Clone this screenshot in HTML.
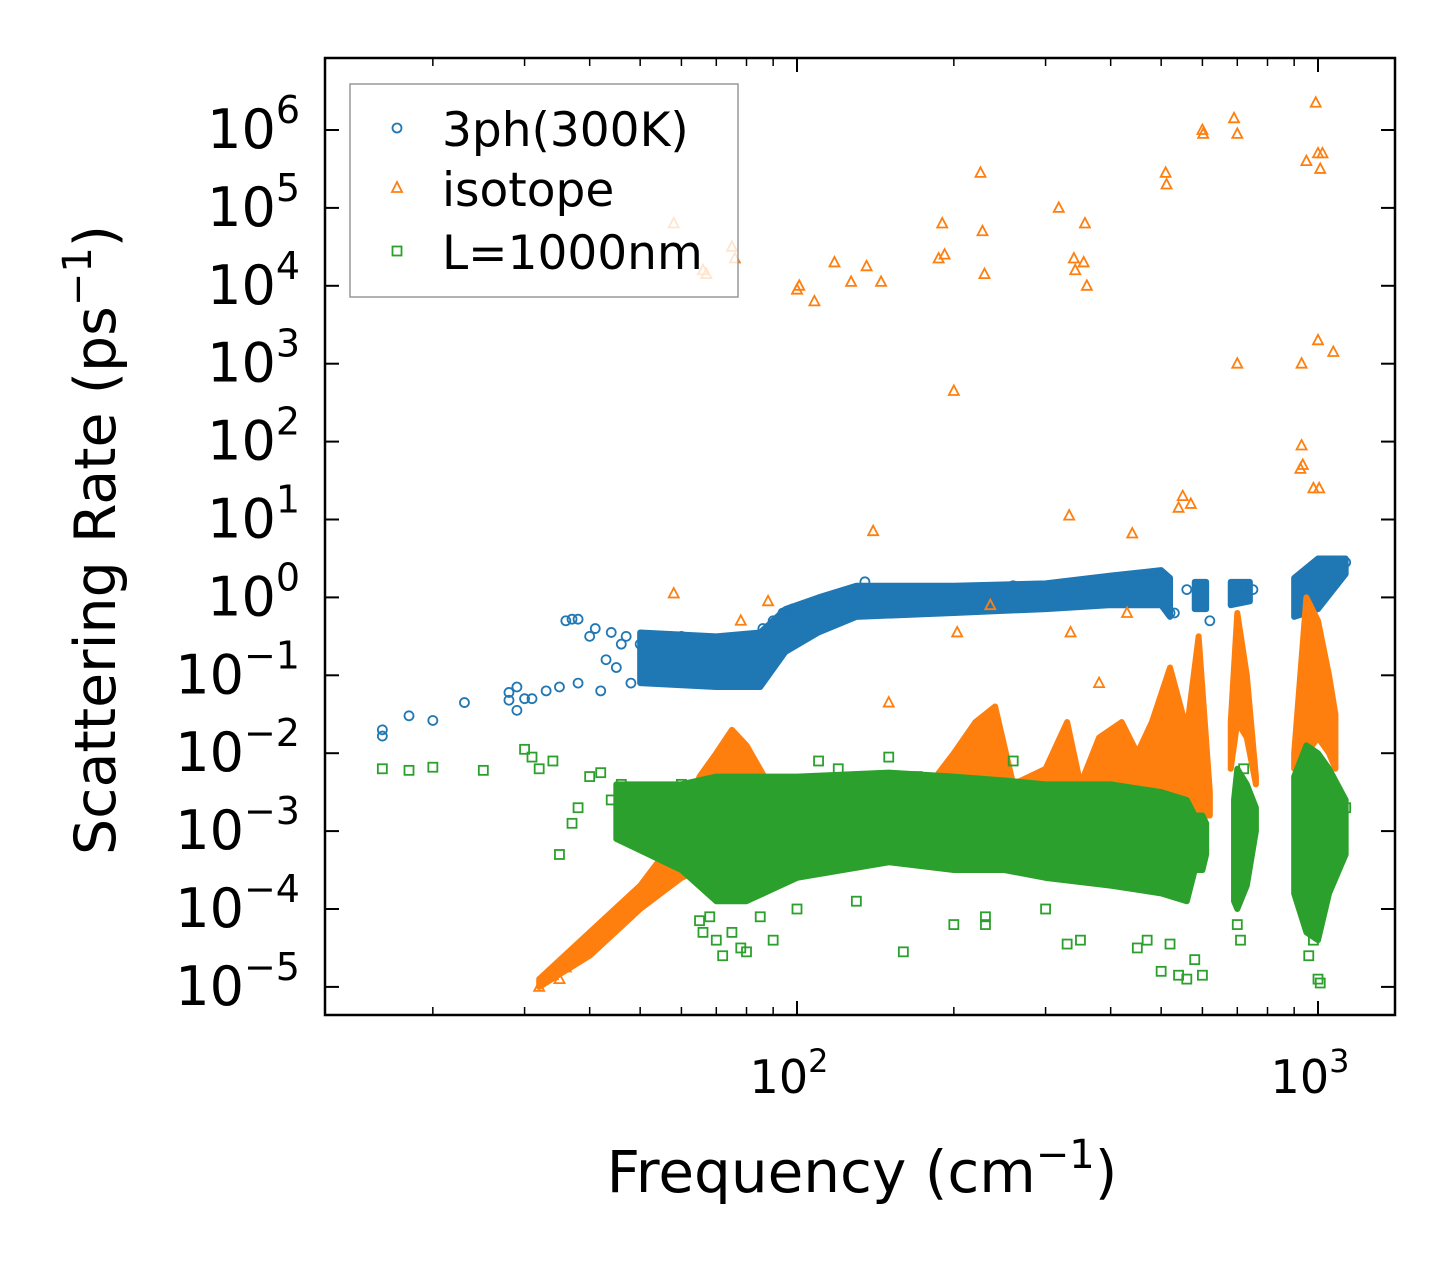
<!DOCTYPE html>
<html><head><meta charset="utf-8"><style>
body{margin:0;background:#fff}
svg{display:block;font-family:"DejaVu Sans","Liberation Sans",sans-serif}
</style></head><body>
<svg id="chart" width="1455" height="1265" viewBox="0 0 1455 1265" xmlns="http://www.w3.org/2000/svg"></svg>
<script>
// ---- data (frequency cm^-1, log10 rate ps^-1) ----
const blueF=[16,16,18,20,23,28,28,29,29,30,31,33,35,36,37,38,38,40,41,42,43,44,45,46,47,48,50,52,54,56,58,60,62,64,66,68,70,72,74,76,78,80,82,84,86,88,90,92,94,96,98,100,105,110,115,120,125,130,135,140,150,160,170,180,190,200,210,220,230,240,250,260,270,280,300,320,340,360,380,400,420,440,460,500,510,520,530,560,600,620,700,720,750,920,950,960,980,1000,1020,1050,1100,1130];
const blueR=[-1.7,-1.78,-1.52,-1.58,-1.35,-1.32,-1.22,-1.15,-1.45,-1.3,-1.3,-1.2,-1.15,-0.3,-0.28,-0.28,-1.1,-0.5,-0.4,-1.2,-0.8,-0.45,-0.9,-0.6,-0.5,-1.1,-0.6,-0.7,-0.8,-0.9,-0.75,-0.5,-0.9,-1.0,-0.7,-0.95,-0.8,-1.05,-0.65,-0.9,-0.7,-1.1,-0.85,-0.55,-0.4,-0.5,-0.3,-0.4,-0.2,-0.25,-0.15,-0.2,-0.1,-0.15,-0.05,-0.1,0,-0.05,0.2,0.05,-0.05,0,-0.1,0.05,0,-0.05,0.1,0,-0.1,0,0.05,0.15,0,0.05,0.1,0,0.05,0.15,0.2,0.1,0.2,0.05,0.1,0.3,0,-0.2,-0.2,0.1,0,-0.3,0.15,0.1,0.1,0.1,0.2,-0.1,0.3,0.4,0.3,0.45,0.4,0.45];
const blueBandF=[50,70,85,95,110,130,200,300,400,500,520,null,580,610,null,680,740,null,900,1000,1130];
const blueBandLo=[-1.1,-1.15,-1.15,-0.7,-0.45,-0.25,-0.2,-0.15,-0.1,-0.1,-0.25,null,-0.15,-0.15,null,-0.1,-0.05,null,-0.25,-0.15,0.3];
const blueBandHi=[-0.45,-0.5,-0.45,-0.15,0.0,0.15,0.15,0.18,0.28,0.35,0.25,null,0.2,0.2,null,0.2,0.2,null,0.25,0.5,0.5];

const isoF=[58,66,67,75,76,100,101,108,118,127,136,145,187,190,192,225,227,229,318,340,342,357,360,355,510,512,600,602,690,700,950,990,1000,1010,1020,200,700,930,1000,1070,930,935,925,980,1005,140,333,440,550,540,570,58,78,88,150,203,235,335,380,430,32,34,35,36,37,38,40,42,45,48];
const isoR=[4.8,4.2,4.15,4.5,4.35,3.95,4.0,3.8,4.3,4.05,4.25,4.05,4.35,4.8,4.4,5.45,4.7,4.15,5.0,4.35,4.2,4.8,4.0,4.3,5.45,5.3,6.0,5.95,6.15,5.95,5.6,6.35,5.7,5.5,5.7,2.65,3.0,3.0,3.3,3.15,1.95,1.7,1.65,1.4,1.4,0.85,1.05,0.82,1.3,1.15,1.2,0.05,-0.3,-0.05,-1.35,-0.45,-0.1,-0.45,-1.1,-0.2,-5.0,-4.85,-4.9,-4.75,-4.6,-4.5,-4.4,-4.3,-4.1,-3.95];
const isoBandF=[32,40,50,60,65,70,75,80,90,100,120,140,160,180,200,220,240,260,300,330,350,380,420,450,480,520,560,590,620,null,680,700,730,760,null,900,950,1000,1050,1080];
const isoBandLo=[-5,-4.6,-4.0,-3.6,-3.5,-3.4,-3.5,-3.3,-3.4,-3.3,-3.4,-3.4,-3.3,-3.2,-3.1,-3.0,-3.1,-3.2,-3.2,-3.0,-3.1,-3.0,-3.0,-3.1,-3.0,-3.0,-3.0,-2.8,-2.8,null,-2.2,-1.6,-1.8,-2.4,null,-2.2,-2.0,-1.8,-2.0,-2.2];
const isoBandHi=[-4.9,-4.3,-3.7,-3.0,-2.3,-2.0,-1.7,-1.9,-2.5,-2.6,-2.7,-2.7,-2.6,-2.4,-2.0,-1.6,-1.4,-2.4,-2.2,-1.6,-2.4,-1.8,-1.6,-2.0,-1.6,-0.9,-1.7,-0.5,-2.5,null,-1.6,-0.2,-1.0,-2.3,null,-2.0,0.0,-0.3,-1.0,-1.5];

const grnF=[16,18,20,25,30,31,32,34,35,37,38,40,42,44,46,48,50,52,55,60,62,65,66,68,70,72,75,78,80,85,90,100,110,120,130,150,160,170,200,230,230,260,300,330,350,400,450,470,500,520,540,560,580,600,700,710,720,750,930,950,960,980,1000,1010,1020,1050,1100,1130];
const grnR=[-2.2,-2.22,-2.18,-2.22,-1.95,-2.05,-2.2,-2.1,-3.3,-2.9,-2.7,-2.3,-2.25,-2.6,-2.4,-2.8,-2.5,-2.6,-3.2,-2.4,-3.5,-4.15,-4.3,-4.1,-4.4,-4.6,-4.3,-4.5,-4.55,-4.1,-4.4,-4.0,-2.1,-2.2,-3.9,-2.05,-4.55,-2.3,-4.2,-4.2,-4.1,-2.1,-4.0,-4.45,-4.4,-2.5,-4.5,-4.4,-4.8,-4.45,-4.85,-4.9,-4.65,-4.85,-4.2,-4.4,-2.2,-2.9,-3.6,-3.8,-4.6,-4.4,-4.9,-4.95,-3.9,-2.9,-3.1,-2.7];
const grnBandF=[45,60,70,80,100,150,200,250,300,400,500,560,580,600,610,null,690,700,730,760,null,900,950,1000,1050,1130];
const grnBandLo=[-3.1,-3.5,-3.9,-3.9,-3.6,-3.4,-3.5,-3.5,-3.6,-3.7,-3.8,-3.9,-3.5,-3.5,-3.3,null,-3.9,-4.0,-3.7,-3.0,null,-3.8,-4.3,-4.4,-3.8,-3.3];
const grnBandHi=[-2.4,-2.4,-2.3,-2.3,-2.3,-2.25,-2.3,-2.35,-2.4,-2.4,-2.5,-2.6,-2.8,-2.8,-2.9,null,-2.6,-2.2,-2.4,-2.7,null,-2.3,-1.9,-2.0,-2.2,-2.6];

const yTickExp=[6,5,4,3,2,1,0,-1,-2,-3,-4,-5];
const xMajor=[2,3];
const xMinorVals=[20,30,40,50,60,70,80,90,200,300,400,500,600,700,800,900];

// ---- axes ----
const L=325,R=1395,T=58,B=1015;
const X=f=>797+(Math.log10(f)-2)*521;
const Y=l=>130+(6-l)*77.9;
const NS='http://www.w3.org/2000/svg';
const svg=document.getElementById('chart');
function mk(tag,attrs,parent){const e=document.createElementNS(NS,tag);for(const k in attrs)e.setAttribute(k,attrs[k]);(parent||svg).appendChild(e);return e;}

const cp=mk('clipPath',{id:'clip'});
mk('rect',{x:L,y:T,width:R-L,height:B-T},cp);
const plot=mk('g',{'clip-path':'url(#clip)'});



function band(F,lo,hi,color,name){
  let seg=[];const segs=[];
  for(let i=0;i<=F.length;i++){if(i===F.length||F[i]===null){if(seg.length)segs.push(seg);seg=[];}else seg.push(i);}
  segs.forEach(s=>{
    const pts=s.map(i=>X(F[i])+','+Y(hi[i])).concat(s.slice().reverse().map(i=>X(F[i])+','+Y(lo[i])));
    const p=mk('polygon',{points:pts.join(' '),fill:color,stroke:color,'stroke-width':6,'stroke-linejoin':'round'},plot);
    
    
  });
}
function circles(F,Rr,color,name){F.forEach((f,i)=>{const c=mk('circle',{cx:X(f),cy:Y(Rr[i]),r:4.5,fill:'none',stroke:color,'stroke-width':1.8},plot);

});}
function tris(F,Rr,color,name){F.forEach((f,i)=>{const x=X(f),y=Y(Rr[i]);const t=mk('polygon',{points:`${x},${y-5.5} ${x-5},${y+4} ${x+5},${y+4}`,fill:'none',stroke:color,'stroke-width':1.8},plot);

});}
function squares(F,Rr,color,name){F.forEach((f,i)=>{const s=mk('rect',{x:X(f)-4.5,y:Y(Rr[i])-4.5,width:9,height:9,fill:'none',stroke:color,'stroke-width':1.8},plot);

});}

band(blueBandF,blueBandLo,blueBandHi,'#1f77b4','3ph-band');
circles(blueF,blueR,'#1f77b4','3ph-point');
band(isoBandF,isoBandLo,isoBandHi,'#ff7f0e','isotope-band');
tris(isoF,isoR,'#ff7f0e','isotope-point');
band(grnBandF,grnBandLo,grnBandHi,'#2ca02c','boundary-band');
squares(grnF,grnR,'#2ca02c','boundary-point');

// frame
const fr=mk('rect',{x:L,y:T,width:R-L,height:B-T,fill:'none',stroke:'#000','stroke-width':2.5});



// y ticks
yTickExp.forEach(e=>{
  const y=Y(e);
  mk('line',{x1:L,x2:L+14,y1:y,y2:y,stroke:'#000','stroke-width':2});
  mk('line',{x1:R-14,x2:R,y1:y,y2:y,stroke:'#000','stroke-width':2});
  const t=mk('text',{x:300,y:y+18,'text-anchor':'end','font-size':54,fill:'#000'});
  
  
  t.textContent='10';
  const s=mk('tspan',{dy:-25,'font-size':38},t);s.textContent=e<0?'\u2212'+(-e):String(e);
});
// x ticks
xMajor.forEach(e=>{
  const x=797+(e-2)*521;
  mk('line',{x1:x,x2:x,y1:B,y2:B-14,stroke:'#000','stroke-width':2});
  mk('line',{x1:x,x2:x,y1:T,y2:T+14,stroke:'#000','stroke-width':2});
  const t=mk('text',{x:x-8,y:1093,'text-anchor':'middle','font-size':46,fill:'#000'});
  
  
  t.textContent='10';
  const s=mk('tspan',{dy:-21,'font-size':32},t);s.textContent=String(e);
});
xMinorVals.forEach(v=>{const x=X(v);
  mk('line',{x1:x,x2:x,y1:B,y2:B-8,stroke:'#000','stroke-width':1.5});
  mk('line',{x1:x,x2:x,y1:T,y2:T+8,stroke:'#000','stroke-width':1.5});});

// axis titles
const xt=mk('text',{x:862,y:1192,'text-anchor':'middle','font-size':58,fill:'#000'});


xt.innerHTML='Frequency (cm<tspan dy="-24" font-size="40">\u22121</tspan><tspan dy="24">)</tspan>';
const yt=mk('text',{x:0,y:0,'text-anchor':'middle','font-size':57,fill:'#000',transform:'translate(115,540) rotate(-90)'});


yt.innerHTML='Scattering Rate (ps<tspan dy="-24" font-size="40">\u22121</tspan><tspan dy="24">)</tspan>';

// legend
const lg=mk('g',{});


mk('rect',{x:350,y:84,width:388,height:213,fill:'#fff','fill-opacity':0.8,stroke:'#999','stroke-width':1.5},lg);
const le=[['3ph(300K)','#1f77b4','c',130],['isotope','#ff7f0e','t',190],['L=1000nm','#2ca02c','s',253]];
le.forEach(([lab,col,sh,y])=>{
  const g=mk('g',{},lg);
  
  
  const x=397;
  if(sh==='c')mk('circle',{cx:x,cy:y-2,r:4.5,fill:'none',stroke:col,'stroke-width':1.8},g);
  if(sh==='t')mk('polygon',{points:`${x},${y-8} ${x-5},${y+2} ${x+5},${y+2}`,fill:'none',stroke:col,'stroke-width':1.8},g);
  if(sh==='s')mk('rect',{x:x-4.5,y:y-6.5,width:9,height:9,fill:'none',stroke:col,'stroke-width':1.8},g);
  const t=mk('text',{x:442,y:y+16,'font-size':47,fill:'#000'},g);t.textContent=lab;
});
</script>
</body></html>
